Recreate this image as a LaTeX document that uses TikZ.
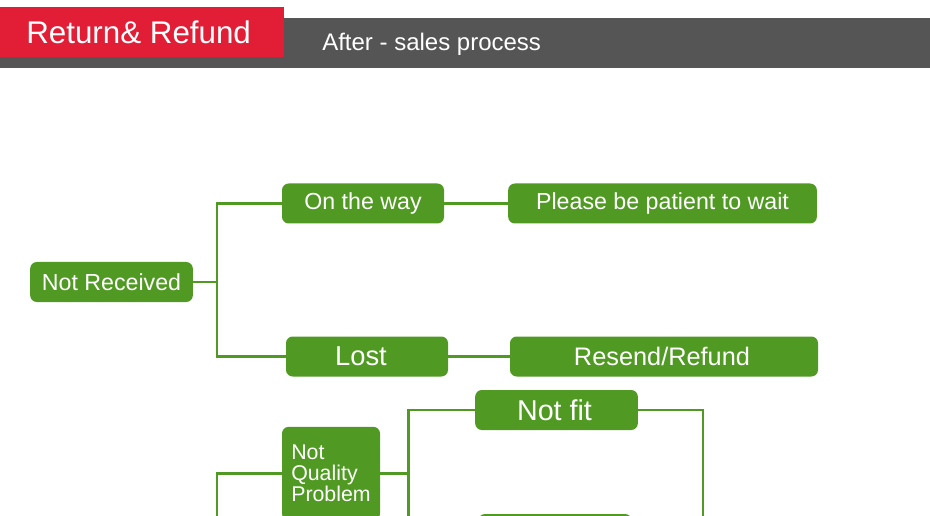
\documentclass[tikz,border=0pt]{standalone}
\usepackage{fontspec}
\setmainfont{Liberation Sans}
\definecolor{boxgreen}{RGB}{80,154,36}
\definecolor{titlered}{RGB}{226,30,54}
\definecolor{bargray}{RGB}{85,85,85}
\begin{document}
\begin{tikzpicture}[x=0.75pt,y=-0.75pt,
  box/.style={fill=boxgreen, text=white, rounded corners=5pt, minimum height=30pt, inner sep=0pt, font=\fontsize{17.4}{20}\selectfont},
  link/.style={draw=boxgreen, line width=1.6pt}]
\useasboundingbox (0,0) rectangle (930,516);
% header
\fill[bargray] (0,18) rectangle (930,68);
\fill[titlered] (0,7) rectangle (284,57);
\node[anchor=base west, inner sep=0pt, text=white, font=\fontsize{23.5}{26}\selectfont] (title) at (26,44) {Return\& Refund};
\node[anchor=base west, inner sep=0pt, text=white, font=\fontsize{18}{20}\selectfont] (subtitle) at (322,51) {After - sales process};
% not received
\node[box, minimum width=122pt] (notrec) at (111.5,282) {Not Received};
\node[box, minimum width=121.5pt] (way) at (363,203.5) {On the way};
\node[box, minimum width=121.5pt, font=\fontsize{20.5}{24}\selectfont] (lost) at (367,356.5) {\hspace*{-9pt}Lost};
\node[box, minimum width=231.5pt] (wait) at (662.5,203.5) {Please be patient to wait};
\node[box, minimum width=231pt, font=\fontsize{19}{22}\selectfont] (resend) at (664,356.5) {\hspace*{-3pt}Resend/Refund};
\coordinate (split) at (217,282);
\draw[link] (notrec) -- (split) |- (way);
\draw[link] (split) |- (lost);
\draw[link] (way) -- (wait);
\draw[link] (lost) -- (resend);
% not quality problem
\node[box, minimum width=73.5pt, minimum height=70pt, inner xsep=6.8pt, align=left, font=\fontsize{16}{15.75}\selectfont] (notqual) at (331,473.5) {Not\\Quality\\Problem};
\node[box, minimum width=122pt, font=\fontsize{21.5}{25}\selectfont] (notfit) at (556.5,410) {\hspace*{-3pt}Not fit};
\node[box, minimum width=115pt] (below) at (555,534) {};
\coordinate (leftend) at (217,516);
\coordinate (midend) at (408.5,516);
\coordinate (rightend) at (703,516);
\draw[link] (notqual) -| (leftend);
\draw[link] (notqual) -- (408.5,473.5);
\draw[link] (midend) |- (notfit);
\draw[link] (notfit) -| (rightend);
\end{tikzpicture}
\end{document}
